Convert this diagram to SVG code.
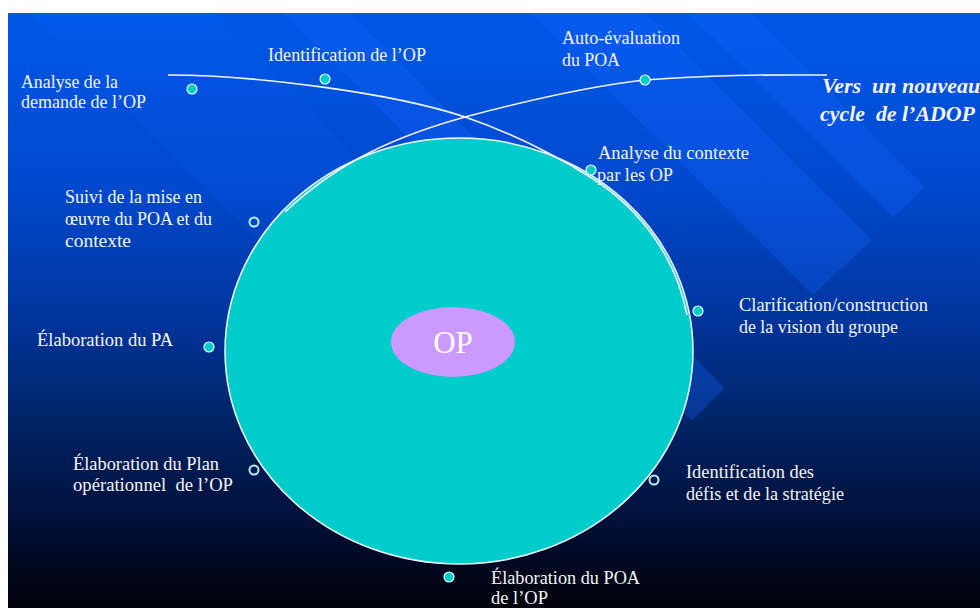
<svg xmlns="http://www.w3.org/2000/svg" width="980" height="608" viewBox="0 0 980 608">
<defs>
<linearGradient id="bg" x1="0" y1="13" x2="0" y2="608" gradientUnits="userSpaceOnUse">
<stop offset="0" stop-color="#0058e8"/>
<stop offset="0.3" stop-color="#0048cc"/>
<stop offset="0.5" stop-color="#0036a0"/>
<stop offset="0.7" stop-color="#002262"/>
<stop offset="0.85" stop-color="#00103a"/>
<stop offset="1" stop-color="#000008"/>
</linearGradient>
<style>
.lbl{font-family:"Liberation Serif","Times New Roman",serif;font-size:18px;fill:#f4f4f4;white-space:pre}
.big{font-family:"Liberation Serif","Times New Roman",serif;font-size:22px;font-style:italic;font-weight:bold;fill:#f4f4f4;white-space:pre}
.band{fill:#1464ff;fill-opacity:0.3}
.dot{fill:#00cccc;stroke:#e6ffff;stroke-width:1.2}
.ring{fill:none;stroke:#b8eeee;stroke-width:2}
.conn{fill:none;stroke:#f0f4ff;stroke-width:1.6}
</style>
</defs>
<rect x="0" y="0" width="980" height="608" fill="#ffffff"/>
<rect x="8" y="13" width="972" height="595" fill="url(#bg)"/>
<g id="background-bands">
<polygon class="band" points="531,13 645,13 872,240 813,295"/>
<polygon class="band" points="688,13 751,13 925,187 893,218"/>
<polygon class="band" points="284,13 350,13 725,388 692,421"/>
<polygon class="band" points="30,13 213,13 560,360 470,450" style="fill-opacity:0.1"/>
</g>
<g id="cycle">
<ellipse cx="459" cy="351" rx="234" ry="213" fill="#00cccc" stroke="#f0f8ff" stroke-width="1.5"/>
</g>
<g id="connectors">
<path class="conn" d="M168,75 C250,75 390,92 465,117 C515,134 558,157 592.1,178.2 A232 211 0 0 1 687,315"/>
<path class="conn" d="M285,212 C340,160 400,135 465,117 C540,97 600,85 645,80 C720,74 780,75 827,75"/>
</g>
<g id="op">
<ellipse cx="453" cy="342" rx="62" ry="35" fill="#cc99ff"/>
<text x="453" y="353" text-anchor="middle" font-family="'Liberation Serif','Times New Roman',serif" font-size="31" fill="#ffffff">OP</text>
</g>
<g id="n-analyse-demande">
<circle class="dot" cx="192" cy="89" r="5"/>
<text class="lbl" x="21" y="88" textLength="97" lengthAdjust="spacingAndGlyphs">Analyse de la</text>
<text class="lbl" x="21" y="108" textLength="125" lengthAdjust="spacingAndGlyphs">demande de l’OP</text>
</g>
<g id="n-identification-op">
<circle class="dot" cx="325" cy="79" r="5"/>
<text class="lbl" x="268" y="61" textLength="158" lengthAdjust="spacingAndGlyphs">Identification de l’OP</text>
</g>
<g id="n-auto-evaluation">
<circle class="dot" cx="645" cy="80" r="5"/>
<text class="lbl" x="562" y="44" textLength="118" lengthAdjust="spacingAndGlyphs">Auto-évaluation</text>
<text class="lbl" x="562" y="66" textLength="58" lengthAdjust="spacingAndGlyphs">du POA</text>
</g>
<g id="n-nouveau-cycle">
<text class="big" x="822" y="93">Vers  un nouveau</text>
<text class="big" x="820" y="121" textLength="155" lengthAdjust="spacingAndGlyphs">cycle  de l’ADOP</text>
</g>
<g id="n-analyse-contexte">
<circle class="dot" cx="591" cy="170" r="5"/>
<text class="lbl" x="598" y="159" textLength="151" lengthAdjust="spacingAndGlyphs">Analyse du contexte</text>
<text class="lbl" x="597" y="181" textLength="76" lengthAdjust="spacingAndGlyphs">par les OP</text>
</g>
<g id="n-clarification">
<circle class="dot" cx="698" cy="311" r="5"/>
<text class="lbl" x="739" y="311" textLength="189" lengthAdjust="spacingAndGlyphs">Clarification/construction</text>
<text class="lbl" x="739" y="333" textLength="159" lengthAdjust="spacingAndGlyphs">de la vision du groupe</text>
</g>
<g id="n-defis">
<circle class="ring" cx="654" cy="480" r="4.5"/>
<text class="lbl" x="686" y="478" textLength="128" lengthAdjust="spacingAndGlyphs">Identification des</text>
<text class="lbl" x="686" y="500" textLength="158" lengthAdjust="spacingAndGlyphs">défis et de la stratégie</text>
</g>
<g id="n-elaboration-poa">
<circle class="dot" cx="449" cy="577" r="5"/>
<text class="lbl" x="491" y="584" textLength="149" lengthAdjust="spacingAndGlyphs">Élaboration du POA</text>
<text class="lbl" x="491" y="604" textLength="57" lengthAdjust="spacingAndGlyphs">de l’OP</text>
</g>
<g id="n-plan-operationnel">
<circle class="ring" cx="254" cy="470" r="4.5"/>
<text class="lbl" x="73" y="470" textLength="146" lengthAdjust="spacingAndGlyphs">Élaboration du Plan</text>
<text class="lbl" x="73" y="491" textLength="160" lengthAdjust="spacingAndGlyphs">opérationnel  de l’OP</text>
</g>
<g id="n-elaboration-pa">
<circle class="dot" cx="209" cy="347" r="5"/>
<text class="lbl" x="37" y="346" textLength="136" lengthAdjust="spacingAndGlyphs">Élaboration du PA</text>
</g>
<g id="n-suivi">
<circle class="ring" cx="254" cy="222" r="4.5"/>
<text class="lbl" x="65" y="203" textLength="137" lengthAdjust="spacingAndGlyphs">Suivi de la mise en</text>
<text class="lbl" x="65" y="225" textLength="147" lengthAdjust="spacingAndGlyphs">œuvre du POA et du</text>
<text class="lbl" x="65" y="247" textLength="66" lengthAdjust="spacingAndGlyphs">contexte</text>
</g>
</svg>
